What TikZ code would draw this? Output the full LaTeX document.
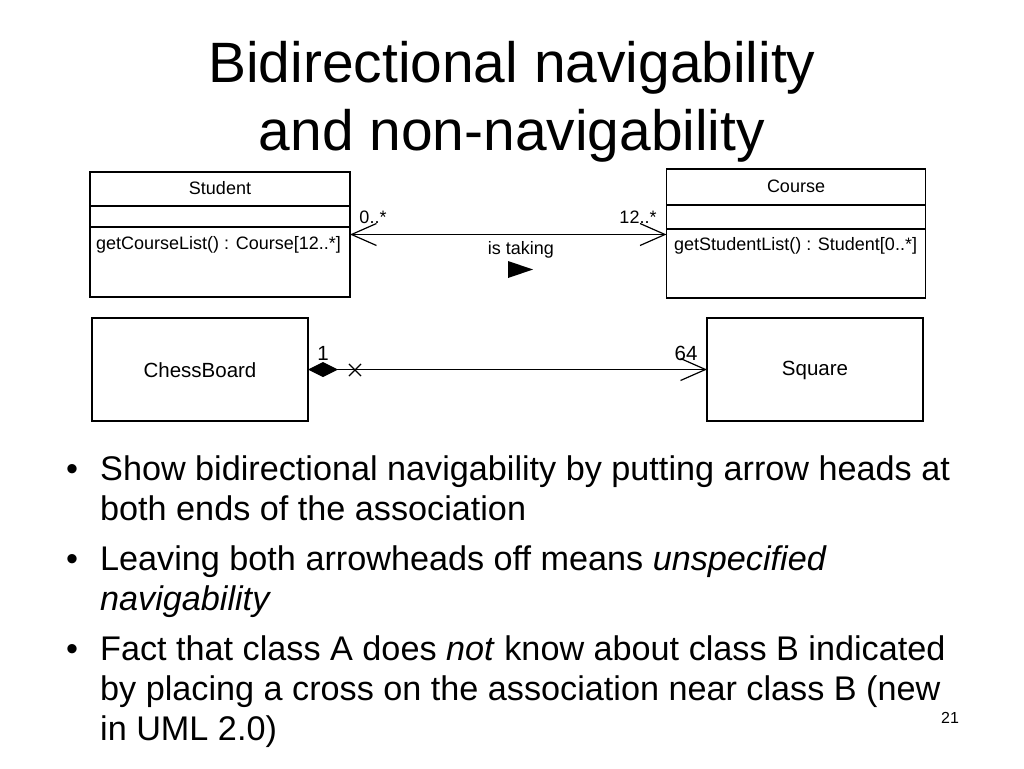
\documentclass[tikz,border=0pt]{standalone}
\usepackage{fontspec}
\setmainfont{Liberation Sans}
\usetikzlibrary{arrows.meta,shapes.misc}
\tikzset{
  box/.style={draw, line width=1.3pt, inner sep=0pt, outer sep=0pt},
  uml/.style={font=\fontsize{18}{21}\selectfont, inner sep=0pt},
  umlbig/.style={font=\fontsize{20.5}{24}\selectfont, inner sep=0pt},
  barb/.tip={Straight Barb[length=25pt,width=22pt,line width=1.2pt]},
  assoc/.style={line width=1.2pt},
  bul/.style={font=\fontsize{34.2}{40}\selectfont, anchor=base west, inner sep=0pt},
  ttl/.style={font=\fontsize{56.9}{66}\selectfont, anchor=base, inner sep=0pt}
}
\begin{document}
\begin{tikzpicture}[x=1pt,y=-1pt]
\useasboundingbox[fill=white] (0,0) rectangle (1024,768);
% title
\node[ttl] (t1) at (512,82) {Bidirectional navigability};
\node[ttl] (t2) at (512,150) {and non-navigability};
% Student class
\node[box, minimum width=260pt, minimum height=125pt] (st) at (220,234.5) {};
\draw[line width=1.3pt] (st.west |- 0,206) -- (st.east |- 0,206);
\draw[line width=1.3pt] (st.west |- 0,227) -- (st.east |- 0,227);
\node[uml] (stn) at (220,188) {Student};
\node[uml, anchor=west] (stm) at (96,245) {getCourseList() : Course[12..*]};
% Course class
\node[box, minimum width=259pt, minimum height=129pt] (co) at (796,233.5) {};
\draw[line width=1.3pt] (co.west |- 0,205) -- (co.east |- 0,205);
\draw[line width=1.3pt] (co.west |- 0,229) -- (co.east |- 0,229);
\node[uml] (con) at (796,186) {Course};
\node[uml, anchor=west] (com) at (674,246) {getStudentList() : Student[0..*]};
% association
\draw[assoc, barb-barb] (st.east) -- (st.east -| co.west);
\node[uml] (m1) at (373,217) {0..*};
\node[uml] (m2) at (638,217) {12..*};
\node[uml] (it) at (521,250) {is taking};
\fill (508,261) -- (533,269.5) -- (508,278) -- cycle;
% ChessBoard / Square
\node[box, minimum width=216pt, minimum height=103pt] (cb) at (200,369.5) {};
\node[umlbig] (cbn) at (200,370) {ChessBoard};
\node[box, minimum width=216pt, minimum height=103pt] (sq) at (815,369.5) {};
\node[umlbig] (sqn) at (815,370) {Square};
\draw[assoc, {Diamond[length=30pt,width=15pt,fill=black]}-barb] (cb.east) -- (sq.west);
\node[cross out, draw, line width=1.1pt, minimum size=11pt, inner sep=0pt] (x) at (355,370) {};
\node[umlbig] (m3) at (323,353) {1};
\node[umlbig] (m4) at (686,353) {64};
% bullets
\node[bul] (b1) at (66,480) {•};
\node[bul] (l1) at (100,480) {Show bidirectional navigability by putting arrow heads at};
\node[bul] (l2) at (100,520) {both ends of the association};
\node[bul] (b2) at (66,570) {•};
\node[bul] (l3) at (100,570) {Leaving both arrowheads off means \textit{unspecified}};
\node[bul] (l4) at (100,610) {\textit{navigability}};
\node[bul] (b3) at (66,660) {•};
\node[bul] (l5) at (100,660) {Fact that class A does \textit{not} know about class B indicated};
\node[bul] (l6) at (100,700) {by placing a cross on the association near class B (new};
\node[bul] (l7) at (100,740) {in UML 2.0)};
\node[font=\fontsize{16}{19}\selectfont, inner sep=0pt] (pg) at (950,718) {21};
\end{tikzpicture}
\end{document}
